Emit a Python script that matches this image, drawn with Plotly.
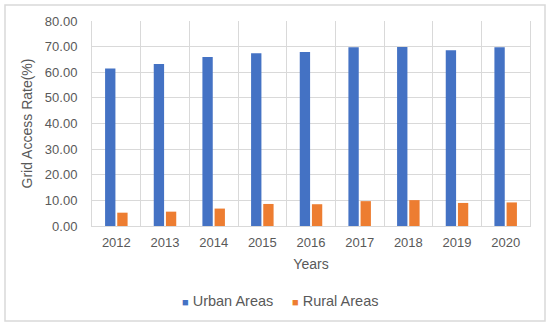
import plotly.graph_objects as go

years = ["2012", "2013", "2014", "2015", "2016", "2017", "2018", "2019", "2020"]
urban = [61.5, 63.2, 66.0, 67.4, 67.9, 69.8, 69.9, 68.6, 69.8]
rural = [5.2, 5.6, 6.8, 8.6, 8.5, 9.7, 10.1, 9.0, 9.2]
y_ticks = [0, 10, 20, 30, 40, 50, 60, 70, 80]
series_names = ["Urban Areas", "Rural Areas"]

BLUE = "#4472C4"
ORANGE = "#ED7D31"
GRID = "#D9D9D9"
TXT = "#595959"
FONT = "Liberation Sans"

W, H = 550, 328
L, R, T, B = 92, 20, 21, 102
PW, PH = W - L - R, H - T - B

fig = go.Figure()
fig.add_trace(go.Bar(x=years, y=urban, name=series_names[0], marker_color=BLUE,
                     marker_line_width=0, showlegend=False))
fig.add_trace(go.Bar(x=years, y=rural, name=series_names[1], marker_color=ORANGE,
                     marker_line_width=0, showlegend=False))

def px_x(p):
    return (p - L) / PW

def px_y(p):
    return (H - B - p) / PH

# legend drawn as text items with small coloured squares (Excel style)
legend_items = [(series_names[0], BLUE, 180), (series_names[1], ORANGE, 290)]
annotations = []
for name, col, xpx in legend_items:
    annotations.append(dict(
        xref="paper", yref="paper", x=px_x(xpx), y=px_y(301),
        xanchor="left", yanchor="middle", showarrow=False,
        text=f"<span style='color:{col};font-size:11px'>■</span> {name}",
        font=dict(family=FONT, size=14.5, color=TXT)))

fig.update_layout(
    width=W, height=H,
    margin=dict(l=L, r=R, t=T, b=B),
    paper_bgcolor="white", plot_bgcolor="white",
    font=dict(family=FONT, color=TXT, size=13),
    barmode="group", bargap=0.5, bargroupgap=0.15,
    showlegend=False,
    annotations=annotations,
    shapes=[dict(type="rect", xref="paper", yref="paper",
                 x0=px_x(5), x1=px_x(545), y0=px_y(321), y1=px_y(5),
                 line=dict(color=GRID, width=1.5), fillcolor="rgba(0,0,0,0)", layer="below")],
)
fig.update_xaxes(type="category", tickson="boundaries", showgrid=True, gridcolor=GRID,
                 gridwidth=1, showline=True, linecolor=GRID, linewidth=1, ticks="",
                 automargin=False, ticklabelstandoff=4,
                 tickfont=dict(size=13, color=TXT),
                 title=dict(text="Years", font=dict(size=14, color=TXT), standoff=10))
fig.update_yaxes(range=[0, 80], tickvals=y_ticks, ticktext=[f"{v:.2f}" for v in y_ticks],
                 showgrid=True, gridcolor=GRID, gridwidth=1, zeroline=False,
                 showline=True, linecolor=GRID, linewidth=1, mirror=True, ticks="",
                 automargin=False, ticklabelstandoff=11,
                 tickfont=dict(size=13, color=TXT),
                 title=dict(text="Grid Access Rate(%)", font=dict(size=14, color=TXT), standoff=8))

fig.write_html("out.html", config={"displayModeBar": False},
               post_script="document.body.style.margin='0';")
